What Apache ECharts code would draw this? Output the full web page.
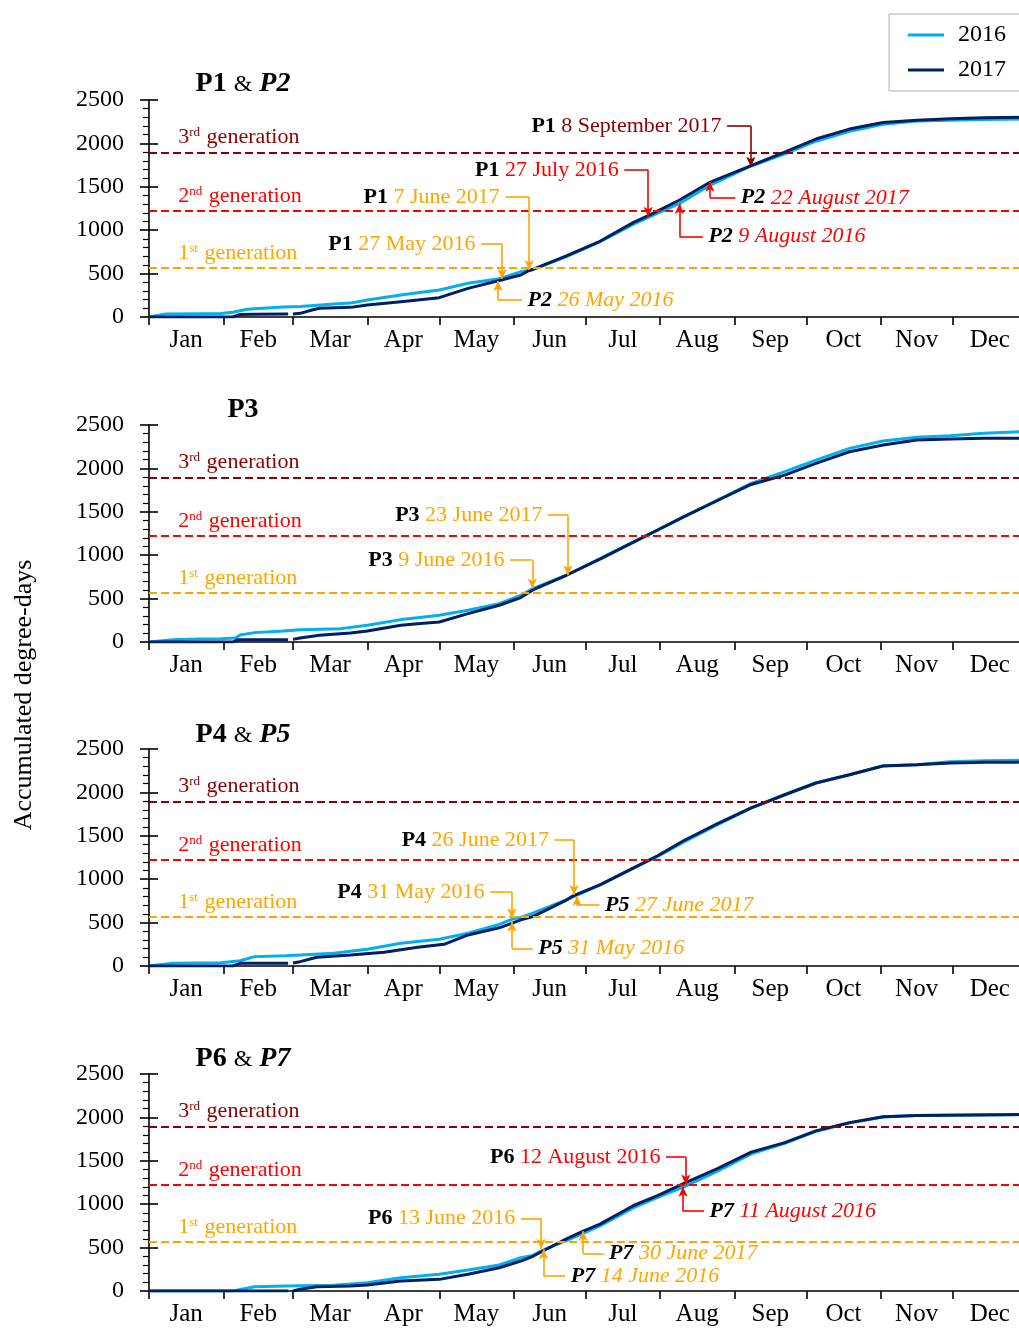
<!DOCTYPE html>
<html><head><meta charset="utf-8">
<script src="https://cdn.jsdelivr.net/npm/echarts@6/dist/echarts.min.js"></script>
<style>html,body{margin:0;padding:0;background:#fff;overflow:hidden}#c{width:1030px;height:1329px}</style>
</head><body><div id="c"></div>
<script>
// ---------- data ----------
const monthNames = ['Jan','Feb','Mar','Apr','May','Jun','Jul','Aug','Sep','Oct','Nov','Dec'];
const monthStarts = [0,31,60,91,121,152,182,213,244,274,305,335,366];
const monthMids = [15.5,45.5,75.5,106,136.5,167,197.5,228.5,259,289.5,320,350.5];
const generationValues = [565, 1220, 1895];
const generationNums = [['1','st'],['2','nd'],['3','rd']];
const panelTitles = ['{b|P1} {a|&} {bi|P2}', '{b|P3}', '{b|P4} {a|&} {bi|P5}', '{b|P6} {a|&} {bi|P7}'];
const seriesNames = ['2016','2017'];

// [day of year, accumulated degree-days]
const p12_2016 = [[0,0],[7,35],[21,38],[30,40],[35,55],[41,90],[44,96],[56,115],[63,120],[77,150],[84,160],[91,196],[105,253],[112,280],[121,311],[133,388],[146,440],[155,522],[160,545],[174,695],[188,868],[202,1070],[209,1160],[221,1305],[234,1520],[251,1740],[265,1880],[278,2025],[292,2140],[306,2220],[320,2258],[334,2268],[348,2275],[366,2280]];
const p12_2017 = [[0,0],[35,0],[38,30],[44,32],[58,35],[59,'-'],[60,35],[63,42],[68,80],[71,100],[84,111],[91,138],[105,177],[112,195],[121,223],[133,330],[146,420],[155,484],[158,530],[160,548],[174,705],[188,872],[202,1090],[209,1180],[221,1345],[234,1555],[251,1745],[265,1900],[278,2050],[292,2165],[306,2240],[320,2268],[334,2285],[348,2296],[366,2302]];
const p3_2016 = [[0,0],[10,27],[21,35],[30,38],[36,45],[38,80],[44,108],[56,127],[63,142],[80,154],[91,192],[105,258],[112,280],[121,308],[133,365],[146,442],[155,538],[160,615],[174,769],[188,962],[202,1154],[212,1288],[223,1442],[237,1635],[251,1827],[265,1962],[278,2096],[292,2231],[306,2315],[320,2358],[334,2377],[348,2404],[366,2425]];
const p3_2017 = [[0,0],[35,0],[37,27],[58,27],[59,'-'],[60,30],[63,46],[71,77],[84,104],[91,127],[105,192],[112,210],[121,231],[133,327],[146,423],[155,512],[160,600],[174,769],[188,955],[202,1150],[212,1290],[223,1445],[237,1630],[251,1815],[265,1923],[278,2058],[292,2192],[306,2269],[320,2327],[334,2338],[348,2346],[366,2346]];
const p45_2016 = [[0,0],[10,31],[30,38],[38,60],[44,108],[57,119],[77,146],[91,192],[105,262],[121,308],[133,377],[146,480],[152,545],[155,560],[160,608],[174,762],[188,935],[202,1127],[212,1262],[223,1430],[237,1627],[251,1819],[265,1973],[278,2108],[292,2204],[306,2308],[320,2319],[334,2354],[348,2365],[366,2369]];
const p45_2017 = [[0,0],[35,0],[38,31],[58,31],[59,'-'],[60,35],[63,50],[70,100],[84,127],[98,158],[112,215],[123,250],[133,358],[146,440],[152,500],[155,531],[160,569],[174,760],[177,812],[188,935],[202,1130],[212,1270],[223,1446],[237,1640],[251,1822],[265,1973],[278,2108],[292,2204],[306,2305],[320,2319],[334,2338],[348,2346],[362,2346],[366,2369]];
const p67_2016 = [[0,0],[35,0],[44,50],[57,58],[77,65],[91,96],[105,153],[121,192],[133,242],[146,300],[155,383],[160,410],[165,480],[174,580],[188,750],[202,960],[212,1080],[223,1200],[237,1380],[251,1580],[265,1700],[278,1840],[292,1936],[306,2005],[320,2021],[366,2032]];
const p67_2017 = [[0,0],[58,0],[59,'-'],[60,0],[63,20],[70,50],[84,58],[91,69],[105,115],[121,134],[133,192],[146,268],[155,345],[160,400],[174,600],[181,690],[188,770],[202,985],[212,1100],[223,1240],[237,1410],[251,1600],[265,1710],[278,1845],[292,1940],[306,2008],[320,2023],[366,2032]];

// annotations: text at (d0,v0), elbow at (d1,v0), arrow tip at (d1,v1)
const ann12 = [
  {who:'P1', it:false, date:'27 May 2016', c:'o', side:'left', d0:138.4, v0:841, d1:147.2, v1:438},
  {who:'P2', it:true, date:'26 May 2016', c:'o', side:'right', d0:155.5, v0:196, d1:145.5, v1:415},
  {who:'P1', it:false, date:'7 June 2017', c:'o', side:'left', d0:148.5, v0:1382, d1:158.5, v1:541},
  {who:'P1', it:false, date:'27 July 2016', c:'r', side:'left', d0:198.1, v0:1694, d1:208.1, v1:1156},
  {who:'P2', it:true, date:'9 August 2016', c:'r', side:'right', d0:230.9, v0:925, d1:221.1, v1:1302},
  {who:'P2', it:true, date:'22 August 2017', c:'r', side:'right', d0:244.4, v0:1374, d1:233.8, v1:1559},
  {who:'P1', it:false, date:'8 September 2017', c:'d', side:'left', d0:240.9, v0:2200, d1:250.9, v1:1732}
];
const ann3 = [
  {who:'P3', it:false, date:'9 June 2016', c:'o', side:'left', d0:150.5, v0:942, d1:159.8, v1:616},
  {who:'P3', it:false, date:'23 June 2017', c:'o', side:'left', d0:166.3, v0:1461, d1:174.6, v1:769}
];
const ann45 = [
  {who:'P4', it:false, date:'31 May 2016', c:'o', side:'left', d0:142.2, v0:850, d1:151.3, v1:550},
  {who:'P5', it:true, date:'31 May 2016', c:'o', side:'right', d0:160.0, v0:204, d1:151.3, v1:511},
  {who:'P4', it:false, date:'26 June 2017', c:'o', side:'left', d0:169.0, v0:1453, d1:177.2, v1:819},
  {who:'P5', it:true, date:'27 June 2017', c:'o', side:'right', d0:187.8, v0:704, d1:178.4, v1:807}
];
const ann67 = [
  {who:'P6', it:false, date:'13 June 2016', c:'o', side:'left', d0:155.0, v0:833, d1:163.5, v1:488},
  {who:'P7', it:true, date:'14 June 2016', c:'o', side:'right', d0:173.5, v0:172, d1:164.4, v1:480},
  {who:'P7', it:true, date:'30 June 2017', c:'o', side:'right', d0:189.5, v0:434, d1:180.9, v1:690},
  {who:'P6', it:false, date:'12 August 2016', c:'r', side:'left', d0:215.5, v0:1541, d1:223.8, v1:1227},
  {who:'P7', it:true, date:'11 August 2016', c:'r', side:'right', d0:231.4, v0:920, d1:222.6, v1:1200}
];

const panels = [
  {s16:p12_2016, s17:p12_2017, ann:ann12},
  {s16:p3_2016, s17:p3_2017, ann:ann3},
  {s16:p45_2016, s17:p45_2017, ann:ann45},
  {s16:p67_2016, s17:p67_2017, ann:ann67}
];

// ---------- styles / layout ----------
const FONT = "'Liberation Serif', 'Times New Roman', serif";
const ORANGE = '#FFA500', RED = '#FF0000', DARKRED = '#8B0000';
const genColors = [ORANGE, RED, DARKRED];
const annColors = {o:ORANGE, r:RED, d:DARKRED};
const C16 = '#00B0F0', C17 = '#002060';
const gridTops = [100, 425, 749, 1074];
const gridH = 217;
const titleTops = [70, 396, 721, 1045];

const annRich = {};
['o','r','d'].forEach(k => {
  annRich[k] = {fontFamily:FONT, fontSize:22, color:annColors[k]};
  annRich[k+'i'] = {fontFamily:FONT, fontSize:22, color:annColors[k], fontStyle:'italic'};
});
annRich.p = {fontFamily:FONT, fontSize:22, fontWeight:'bold', color:'#000'};
annRich.pi = {fontFamily:FONT, fontSize:22, fontWeight:'bold', fontStyle:'italic', color:'#000'};

const genRich = {};
genColors.forEach((c,k) => {
  genRich['n'+k] = {fontFamily:FONT, fontSize:22, color:c};
  genRich['s'+k] = {fontFamily:FONT, fontSize:13, color:c, verticalAlign:'top', padding:[0,1,0,0]};
});

const titleRich = {
  b:{fontFamily:FONT, fontSize:28, fontWeight:'bold', color:'#000', verticalAlign:'bottom'},
  bi:{fontFamily:FONT, fontSize:28, fontWeight:'bold', fontStyle:'italic', color:'#000', verticalAlign:'bottom'},
  a:{fontFamily:FONT, fontSize:24, fontWeight:'normal', color:'#000', verticalAlign:'bottom', padding:[0,0,1,0]}
};

const grids = [], xAxes = [], yAxes = [], series = [], titles = [];
panels.forEach((p, i) => {
  grids.push({left:149, top:gridTops[i], width:878, height:gridH, containLabel:false});
  titles.push({text:panelTitles[i], left:243, top:titleTops[i], textAlign:'center', padding:0,
    textStyle:{fontFamily:FONT, fontSize:28, rich:titleRich}});
  xAxes.push({gridIndex:i, type:'value', min:0, max:366,
    axisLine:{show:true, onZero:false, lineStyle:{color:'#000', width:1.6}},
    axisTick:{show:true, customValues:monthStarts, length:8, lineStyle:{color:'#000', width:1.6}},
    axisLabel:{show:true, customValues:monthMids, formatter:v => monthNames[monthMids.indexOf(v)],
      margin:11, fontFamily:FONT, fontSize:25, color:'#000'},
    splitLine:{show:false}});
  yAxes.push({gridIndex:i, type:'value', min:0, max:2500, interval:500,
    axisLine:{show:true, lineStyle:{color:'#000', width:1.6}},
    axisTick:{show:true, length:9, lineStyle:{color:'#000', width:1.6}},
    minorTick:{show:true, splitNumber:5, length:6, lineStyle:{color:'#000', width:1.2}},
    axisLabel:{margin:25, fontFamily:FONT, fontSize:24, color:'#000', formatter:v => String(v)},
    splitLine:{show:false}});
  yAxes.push({gridIndex:i, type:'value', min:0, max:2500, interval:500, position:'left',
    axisLine:{show:false}, axisTick:{show:true, inside:true, length:9, lineStyle:{color:'#000', width:1.6}},
    axisLabel:{show:false}, splitLine:{show:false}});

  const genLines = generationValues.map((v,k) => ({yAxis:v, lineStyle:{color:genColors[k], type:[8,4], width:2}}));
  const genLabels = generationValues.map((v,k) => ({coord:[12, v],
    label:{show:true, position:'right', distance:0, offset:[0,-15],
      formatter:`{n${k}|${generationNums[k][0]}}{s${k}|${generationNums[k][1]}}{n${k}| generation}`, rich:genRich}}));

  series.push({name:seriesNames[0], type:'line', xAxisIndex:i, yAxisIndex:2*i, data:p.s16,
    showSymbol:false, symbol:'none', connectNulls:false, z:2,
    lineStyle:{color:C16, width:3}, itemStyle:{color:C16},
    markLine:{silent:true, symbol:['none','none'], label:{show:false}, data:genLines, animation:false},
    markPoint:{silent:true, symbol:'circle', symbolSize:1, itemStyle:{color:'rgba(0,0,0,0)'}, data:genLabels, animation:false}
  });

  const lines = [];
  p.ann.forEach(a => {
    const ls = {color:annColors[a.c], width:1.6, type:'solid'};
    lines.push([{coord:[a.d0,a.v0], symbol:'none', lineStyle:ls}, {coord:[a.d1,a.v0], symbol:'none', lineStyle:ls}]);
    lines.push([{coord:[a.d1,a.v0], symbol:'none', lineStyle:ls}, {coord:[a.d1,a.v1], symbol:'arrow', symbolSize:[7,10], lineStyle:ls}]);
  });
  const labels = p.ann.map(a => ({coord:[a.d0,a.v0],
    label:{show:true, position:a.side, distance:5, fontFamily:FONT, fontSize:22,
      formatter:`{${a.it?'pi':'p'}|${a.who}} {${a.c}${a.it?'i':''}|${a.date}}`, rich:annRich}}));

  series.push({name:seriesNames[1], type:'line', xAxisIndex:i, yAxisIndex:2*i, data:p.s17,
    showSymbol:false, symbol:'none', connectNulls:false, z:3,
    lineStyle:{color:C17, width:3}, itemStyle:{color:C17},
    markLine:{silent:true, symbol:['none','none'], label:{show:false}, data:lines, animation:false},
    markPoint:{silent:true, symbol:'circle', symbolSize:1, itemStyle:{color:'rgba(0,0,0,0)'}, data:labels, animation:false}
  });
});

const chart = echarts.init(document.getElementById('c'), null, {renderer:'canvas'});
chart.setOption({
  animation:false,
  backgroundColor:'#fff',
  title:titles,
  legend:{data:seriesNames, orient:'vertical', left:889, top:14, padding:[9,60,9,19], itemGap:11,
    itemWidth:36, itemHeight:3, icon:'rect', borderColor:'#b0b0b0', borderWidth:1,
    textStyle:{fontFamily:FONT, fontSize:24, color:'#000', padding:[0,0,0,9]}},
  grid:grids, xAxis:xAxes, yAxis:yAxes, series:series,
  graphic:[{type:'text', x:24, y:695, rotation:Math.PI/2,
    style:{text:'Accumulated degree-days', font:`26px ${FONT}`, fill:'#000', align:'center', verticalAlign:'middle', textAlign:'center', textVerticalAlign:'middle'}}]
});
</script></body></html>
